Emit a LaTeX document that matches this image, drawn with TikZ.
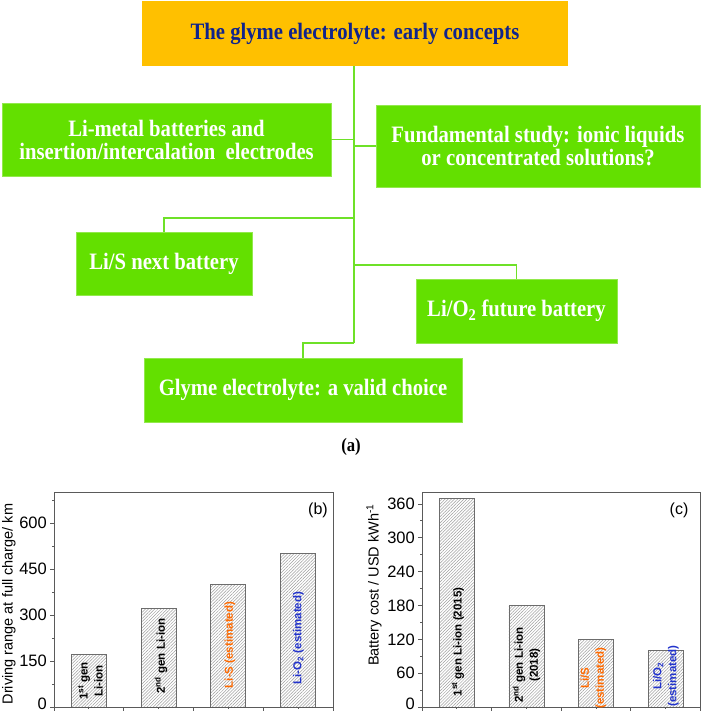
\documentclass[tikz,border=0pt]{standalone}
\usepackage{fontspec}
\setmainfont{Liberation Serif}
\setsansfont{Liberation Sans}
\newfontfamily\boxfont[FakeStretch=0.88]{Liberation Serif}
\usetikzlibrary{patterns.meta}
\definecolor{boxgreen}{RGB}{99,224,0}
\definecolor{linegreen}{RGB}{110,225,40}
\definecolor{boxorange}{RGB}{255,192,0}
\definecolor{navy}{RGB}{16,36,140}
\definecolor{axgrey}{RGB}{90,90,90}
\definecolor{lblorange}{RGB}{255,106,0}
\definecolor{lblblue}{RGB}{34,51,204}
\begin{document}
\begin{tikzpicture}[x=1pt,y=-1pt,
  gbox/.style={fill=boxgreen, draw=boxgreen!70!white, line width=0.6pt, text=white,
    font=\boxfont\bfseries\fontsize{23.5}{23}\selectfont, align=center, inner sep=0pt},
  conn/.style={draw=linegreen, line width=1.2pt},
  axisline/.style={draw=axgrey, line width=0.9pt},
  ticklbl/.style={font=\sffamily\fontsize{16.5}{18}\selectfont, anchor=east, inner sep=0pt},
  axlbl/.style={font=\sffamily\fontsize{14.5}{16}\selectfont, rotate=90, inner sep=0pt},
  barlbl/.style={font=\sffamily\bfseries\fontsize{11.5}{15}\selectfont, rotate=90, align=center, inner sep=0pt},
  panellbl/.style={font=\sffamily\fontsize{16}{18}\selectfont, inner sep=0pt},
  bar/.style={draw=gray!85!black, line width=0.8pt, preaction={fill=white},
    pattern={Lines[angle=45,distance=2.2pt,line width=0.5pt]}, pattern color=gray!75}
]
\useasboundingbox (0,0) rectangle (702,714);
\fill[white] (0,0) rectangle (702,714);

% ---------- (a) flow chart ----------
\node[fill=boxorange, text=navy, font=\boxfont\bfseries\fontsize{23.5}{23}\selectfont,
      minimum width=426pt, minimum height=65pt, inner sep=0pt] (title) at (355,33.5)
      {The glyme electrolyte: early concepts};
\node[gbox, minimum width=329pt, minimum height=73pt] (limetal) at (166.5,139.5)
      {Li-metal batteries and\\insertion/intercalation\ \ electrodes};
\node[gbox, minimum width=324pt, minimum height=82pt] (fund) at (538,146)
      {Fundamental study: ionic liquids\\or concentrated solutions?};
\node[gbox, minimum width=176pt, minimum height=63pt] (lis) at (164,263.5)
      {Li/S next battery};
\node[gbox, minimum width=201pt, minimum height=64pt] (lio2) at (516.5,311)
      {Li/O\textsubscript{2} future battery};
\node[gbox, minimum width=318pt, minimum height=64pt] (glyme) at (303,390)
      {Glyme electrolyte: a valid choice};

\coordinate (tb) at (354,343);
\draw[conn] (title.south -| tb) -- (tb);
\draw[conn] (limetal.east) -- (limetal.east -| tb);
\draw[conn] (fund.west) -- (fund.west -| tb);
\draw[conn] (tb |- 0,218) -| (lis.north);
\draw[conn] (tb |- 0,265) -| (lio2.north);
\draw[conn] (tb) -| (glyme.north);

\node[font=\boxfont\bfseries\fontsize{19}{19}\selectfont, inner sep=0pt] (alabel) at (351,447) {(a)};

% ---------- (b) driving range ----------
\foreach \i/\v in {1/170,2/320,3/400,4/500}{
  \path[bar] ({54+(\i-0.5)*69.75-17.5},707) rectangle ({54+(\i-0.5)*69.75+17.5},{707-\v*0.3067});
}
\draw[axisline] (54,492) rectangle (333,707);
\foreach \v in {0,150,300,450,600}{
  \draw[axisline] (50,{707-\v*0.3067}) -- (54,{707-\v*0.3067});
}
\foreach \v in {150,300,450,600}{
  \node[ticklbl] (bt\v) at (47,{707-\v*0.3067}) {\v};
}
\node[ticklbl] (bt0) at (47,704) {0};
\foreach \v in {75,225,375,525,675}{
  \draw[axisline] (52,{707-\v*0.3067}) -- (54,{707-\v*0.3067});
}
\foreach \k in {0,...,4}{
  \draw[axisline] ({54+\k*69.75},707) -- ({54+\k*69.75},711);
}
\foreach \k in {1,...,4}{
  \draw[axisline] ({54+(\k-0.5)*69.75},707) -- ({54+(\k-0.5)*69.75},709);
}
\node[axlbl] (bylabel) at (9,604) {Driving range at full charge/ km};
\node[panellbl] (bpanel) at (318,510) {(b)};
\node[barlbl] (b1) at (90.5,681) {1\textsuperscript{st} gen\\Li-ion};
\node[barlbl] (b2) at (161,656) {2\textsuperscript{nd} gen Li-ion};
\node[barlbl, text=lblorange] (b3) at (230,645) {Li-S (estimated)};
\node[barlbl, text=lblblue] (b4) at (298.5,638) {Li-O\textsubscript{2} (estimated)};

% ---------- (c) battery cost ----------
\foreach \i/\v in {1/370,2/180,3/120,4/100}{
  \path[bar] ({422+(\i-0.5)*69.6-17.5},707) rectangle ({422+(\i-0.5)*69.6+17.5},{707-\v*0.5639});
}
\draw[axisline] (422,492) rectangle (700.4,707);
\foreach \v in {0,60,120,180,240,300,360}{
  \draw[axisline] (418,{707-\v*0.5639}) -- (422,{707-\v*0.5639});
}
\foreach \v in {60,120,180,240,300,360}{
  \node[ticklbl] (ct\v) at (415,{707-\v*0.5639}) {\v};
}
\node[ticklbl] (ct0) at (415,704) {0};
\foreach \v in {30,90,150,210,270,330}{
  \draw[axisline] (420,{707-\v*0.5639}) -- (422,{707-\v*0.5639});
}
\foreach \k in {0,...,4}{
  \draw[axisline] ({422+\k*69.6},707) -- ({422+\k*69.6},711);
}
\foreach \k in {1,...,4}{
  \draw[axisline] ({422+(\k-0.5)*69.6},707) -- ({422+(\k-0.5)*69.6},709);
}
\node[axlbl] (cylabel) at (374,585) {Battery cost / USD kWh\textsuperscript{-1}};
\node[panellbl] (cpanel) at (679,510) {(c)};
\node[barlbl] (c1) at (458,642) {1\textsuperscript{st} gen Li-ion (2015)};
\node[barlbl] (c2) at (526.5,665) {2\textsuperscript{nd} gen Li-ion\\(2018)};
\node[barlbl, text=lblorange] (c3) at (593.5,678) {Li/S\\(estimated)};
\node[barlbl, text=lblblue] (c4) at (666,676) {Li/O\textsubscript{2}\\(estimated)};
\end{tikzpicture}
\end{document}
